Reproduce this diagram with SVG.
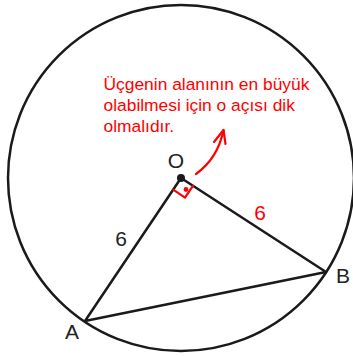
<svg xmlns="http://www.w3.org/2000/svg" width="353" height="356" viewBox="0 0 353 356">
<style>
.k{fill:none;stroke:#1a1a1a;stroke-width:2.5;stroke-linecap:round;stroke-linejoin:round}
.r{fill:none;stroke:#ff0000;stroke-width:2.2;stroke-linecap:round;stroke-linejoin:round}
.lb{font-family:"Liberation Sans",Arial,sans-serif;font-size:21px;fill:#222}
.rt{font-family:"Liberation Sans",Arial,sans-serif;font-size:17.4px;fill:#ff0000}
</style>
<rect width="353" height="356" fill="#fff"/>
<g id="circle"><circle class="k" cx="181" cy="178" r="173"/></g>
<g id="connectors">
<path class="k" d="M181,178 L85,321 L326,272 Z"/>
</g>
<g id="right-angle">
<path class="r" d="M173.2,189.7 L185,197.6 L192.9,185.8"/>
<circle cx="186" cy="189.5" r="2.4" fill="#ff0000"/>
</g>
<g id="O"><circle cx="181" cy="178" r="4" fill="#1a1a1a"/><text class="lb" x="176" y="168" text-anchor="middle">O</text></g>
<g id="A"><text class="lb" x="72" y="339" text-anchor="middle">A</text></g>
<g id="B"><text class="lb" x="343" y="283" text-anchor="middle">B</text></g>
<g id="lenOA"><text class="lb" x="121" y="246" text-anchor="middle">6</text></g>
<g id="lenOB"><text class="lb" x="260" y="220" text-anchor="middle" style="fill:#ff0000">6</text></g>
<g id="note">
<text class="rt" x="103.5" y="89.5">Üçgenin alanının en büyük</text>
<text class="rt" x="103.5" y="111">olabilmesi için o açısı dik</text>
<text class="rt" x="103.5" y="132">olmalıdır.</text>
<path class="r" d="M196,174 Q218,158 223.5,130"/>
<path class="r" d="M214,142 L223.5,130 L225.5,144"/>
</g>
</svg>
